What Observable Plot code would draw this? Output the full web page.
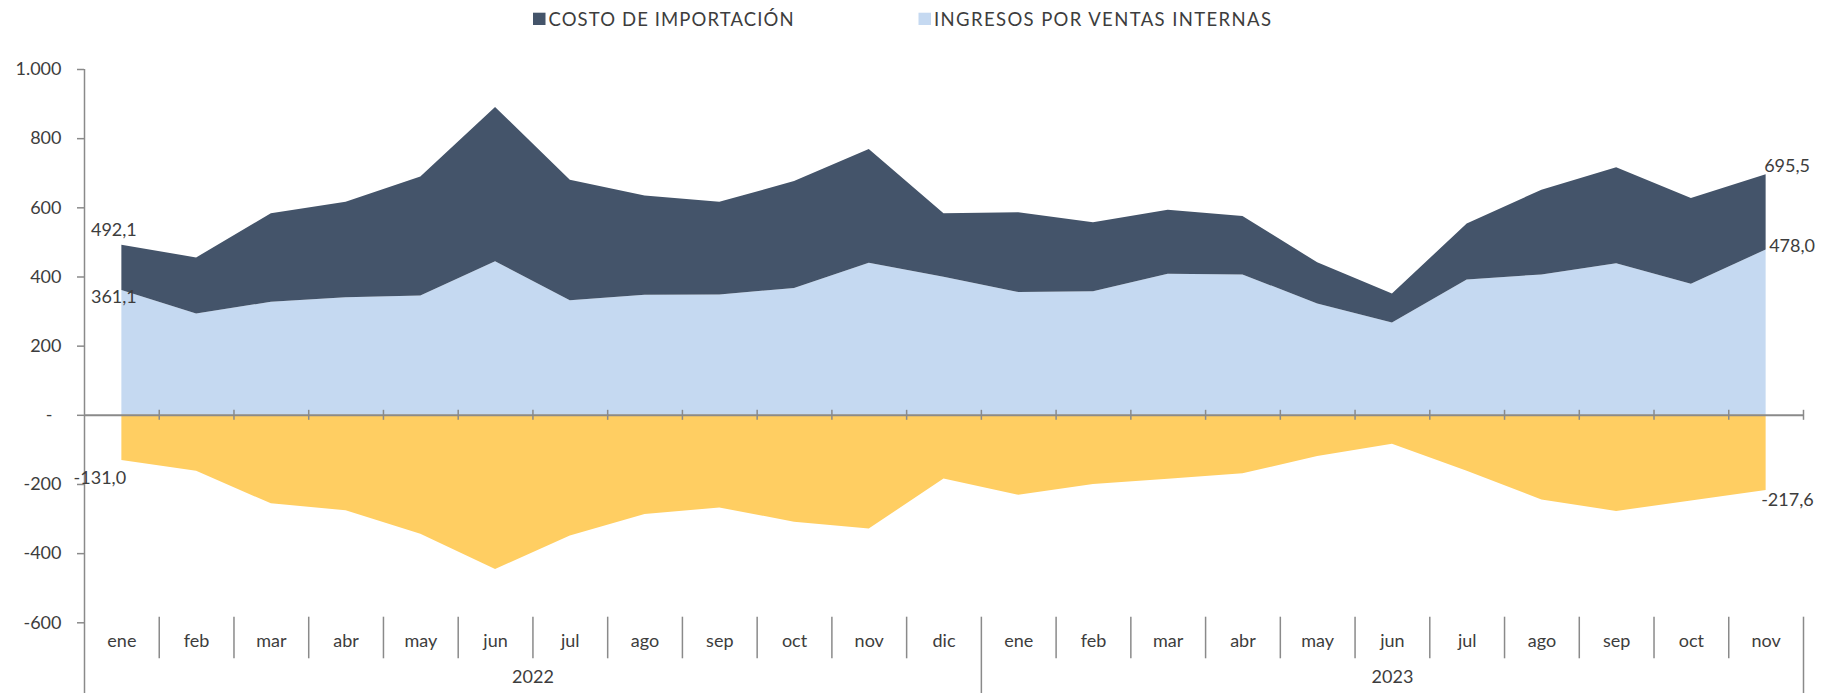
<!DOCTYPE html>
<html><head><meta charset="utf-8">
<script src="https://cdn.jsdelivr.net/npm/d3@7"></script>
<script src="https://cdn.jsdelivr.net/npm/@observablehq/plot@0.6"></script>
<style>
body{margin:0;background:#fff;font-family:Lato,sans-serif;}
#wrap{position:relative;width:1823px;height:693px;overflow:hidden;}
#legend{position:absolute;left:0;top:0;}
#chart{position:absolute;left:0;top:40px;}
</style></head><body>
<div id="wrap"><svg id="legend" width="1823" height="40"></svg><div id="chart"></div></div>
<script>
// ---- data ----
const months = ["ene","feb","mar","abr","may","jun","jul","ago","sep","oct","nov","dic",
                "ene","feb","mar","abr","may","jun","jul","ago","sep","oct","nov"];
const years = ["2022","2023"];
const monthsPerYear = [12, 11];
const ingresos = [361.1,293,327,340,345,444,331,347,348,367,440,399,
                  355,357,408,406,322,267,391,406,438,379,478.0];
const costo = [131.0,162,256,276,344,446,349,287,268,309,329,184,
               231,200,185,169,119,84,162,245,278,248,217.5];
const costoNeg = [-131.0,-162,-256,-276,-344,-446,-349,-287,-268,-309,-329,-184,
                  -231,-200,-185,-169,-119,-84,-162,-245,-278,-248,-217.6];
const yTicks = [-600,-400,-200,0,200,400,600,800,1000];
const seriesNames = ["INGRESOS POR VENTAS INTERNAS","COSTO DE IMPORTACIÓN","NEG"];
const legendNames = ["COSTO DE IMPORTACIÓN","INGRESOS POR VENTAS INTERNAS"];

// ---- styles ----
const colors = ["#C5D9F1","#44546A","#FFCE62"];
const axisGray = "#8a8a8a";
const textColor = "#3d3d3d";
const FONT = 18;

const loc = d3.formatLocale({decimal:",", thousands:".", grouping:[3], currency:["",""], minus:"-"});
const f1 = loc.format(".1f");
const f0 = loc.format(",.0f");

const rows = [];
months.forEach((m,i)=>{
  rows.push({i, serie: seriesNames[0], v: ingresos[i]});
  rows.push({i, serie: seriesNames[1], v: costo[i]});
  rows.push({i, serie: seriesNames[2], v: costoNeg[i]});
});
const n = months.length;
const boundaries = d3.range(n).map(i => i + 0.5);
const monthSeps = boundaries.filter(b => b < n - 1 && b !== monthsPerYear[0] - 0.5);
const yearSeps = [monthsPerYear[0] - 0.5, n - 0.5];
let start = 0;
const yearRows = years.map((y,k)=>{ const c = start + (monthsPerYear[k]-1)/2; start += monthsPerYear[k]; return {y, c}; });

const last = n - 1;
const labels = [
  {i:0, v: ingresos[0] + costo[0], dx:-8, dy:-15, a:"middle"},
  {i:0, v: ingresos[0], dx:-8, dy:7, a:"middle"},
  {i:0, v: costoNeg[0], dx:-22, dy:18, a:"middle"},
  {i:last, v: ingresos[last] + costo[last], dx:-2, dy:-9, a:"start"},
  {i:last, v: ingresos[last], dx:3, dy:-4, a:"start"},
  {i:last, v: costoNeg[last], dx:-5, dy:10, a:"start"},
];

const H = 653, mTop = 29, mBottom = 70.7, X0 = 84, X1 = 1803;
const chart = Plot.plot({
  width: 1823, height: H,
  marginTop: mTop, marginBottom: mBottom, marginLeft: X0, marginRight: 1823 - X1,
  style: {fontFamily: "Lato, sans-serif", fontSize: FONT + "px", background: "#fff"},
  x: {type: "linear", domain: [-0.5, n - 0.5], range: [X0, X1], axis: null},
  y: {domain: [-600, 1000], axis: null},
  color: {domain: seriesNames, range: colors},
  marks: [
    Plot.areaY(rows, {x: "i", y: "v", fill: "serie", z: "serie", order: seriesNames}),
    Plot.ruleY([0], {x1: -0.5, x2: n - 0.5, stroke: axisGray, strokeWidth: 2}),
    Plot.ruleX(boundaries, {x: d => d, y1: 0, y2: 0, insetTop: -5, insetBottom: -5, stroke: axisGray, strokeWidth: 1.5}),
    Plot.ruleX([-0.5], {x: d => d, y1: 1000, y2: -600, insetBottom: -mBottom, stroke: axisGray, strokeWidth: 1.5}),
    Plot.axisY(yTicks, {label: null, tickSize: 7, tickPadding: 16, stroke: axisGray, strokeWidth: 1.5, fill: textColor,
      fontSize: FONT, tickFormat: d => d === 0 ? "-\u2002" : f0(d)}),
    Plot.ruleX(monthSeps, {x: d => d, y1: -600, y2: -600, insetTop: -5.6, insetBottom: -36, stroke: axisGray, strokeWidth: 1.5}),
    Plot.ruleX(yearSeps, {x: d => d, y1: -600, y2: -600, insetTop: -5.6, insetBottom: -mBottom, stroke: axisGray, strokeWidth: 1.5}),
    Plot.text(months, {x: (d,i) => i, text: d => d, frameAnchor: "bottom", dy: 24, fill: textColor, fontSize: FONT}),
    Plot.text(yearRows, {x: "c", text: "y", frameAnchor: "bottom", dy: 60, fill: textColor, fontSize: FONT}),
    ...labels.map(l => Plot.text([l], {x: "i", y: "v", text: d => f1(d.v), dx: l.dx, dy: l.dy, textAnchor: l.a, fill: textColor, fontSize: FONT})),
  ]
});
document.getElementById("chart").appendChild(chart);

// legend
const lg = d3.select("#legend");
const legendItems = [
  {name: legendNames[0], color: colors[1], x: 533, w: 245},
  {name: legendNames[1], color: colors[0], x: 918.5, w: 337},
];
legendItems.forEach(it => {
  lg.append("rect").attr("x", it.x).attr("y", 12.7).attr("width", 12.5).attr("height", 12.3).attr("fill", it.color);
  lg.append("text").attr("x", it.x + 15.5).attr("y", 25.7).attr("font-size", 18.5)
    .attr("fill", textColor).attr("font-family", "Lato, sans-serif")
    .attr("textLength", it.w).attr("lengthAdjust", "spacing").text(it.name);
});
</script>
</body></html>
